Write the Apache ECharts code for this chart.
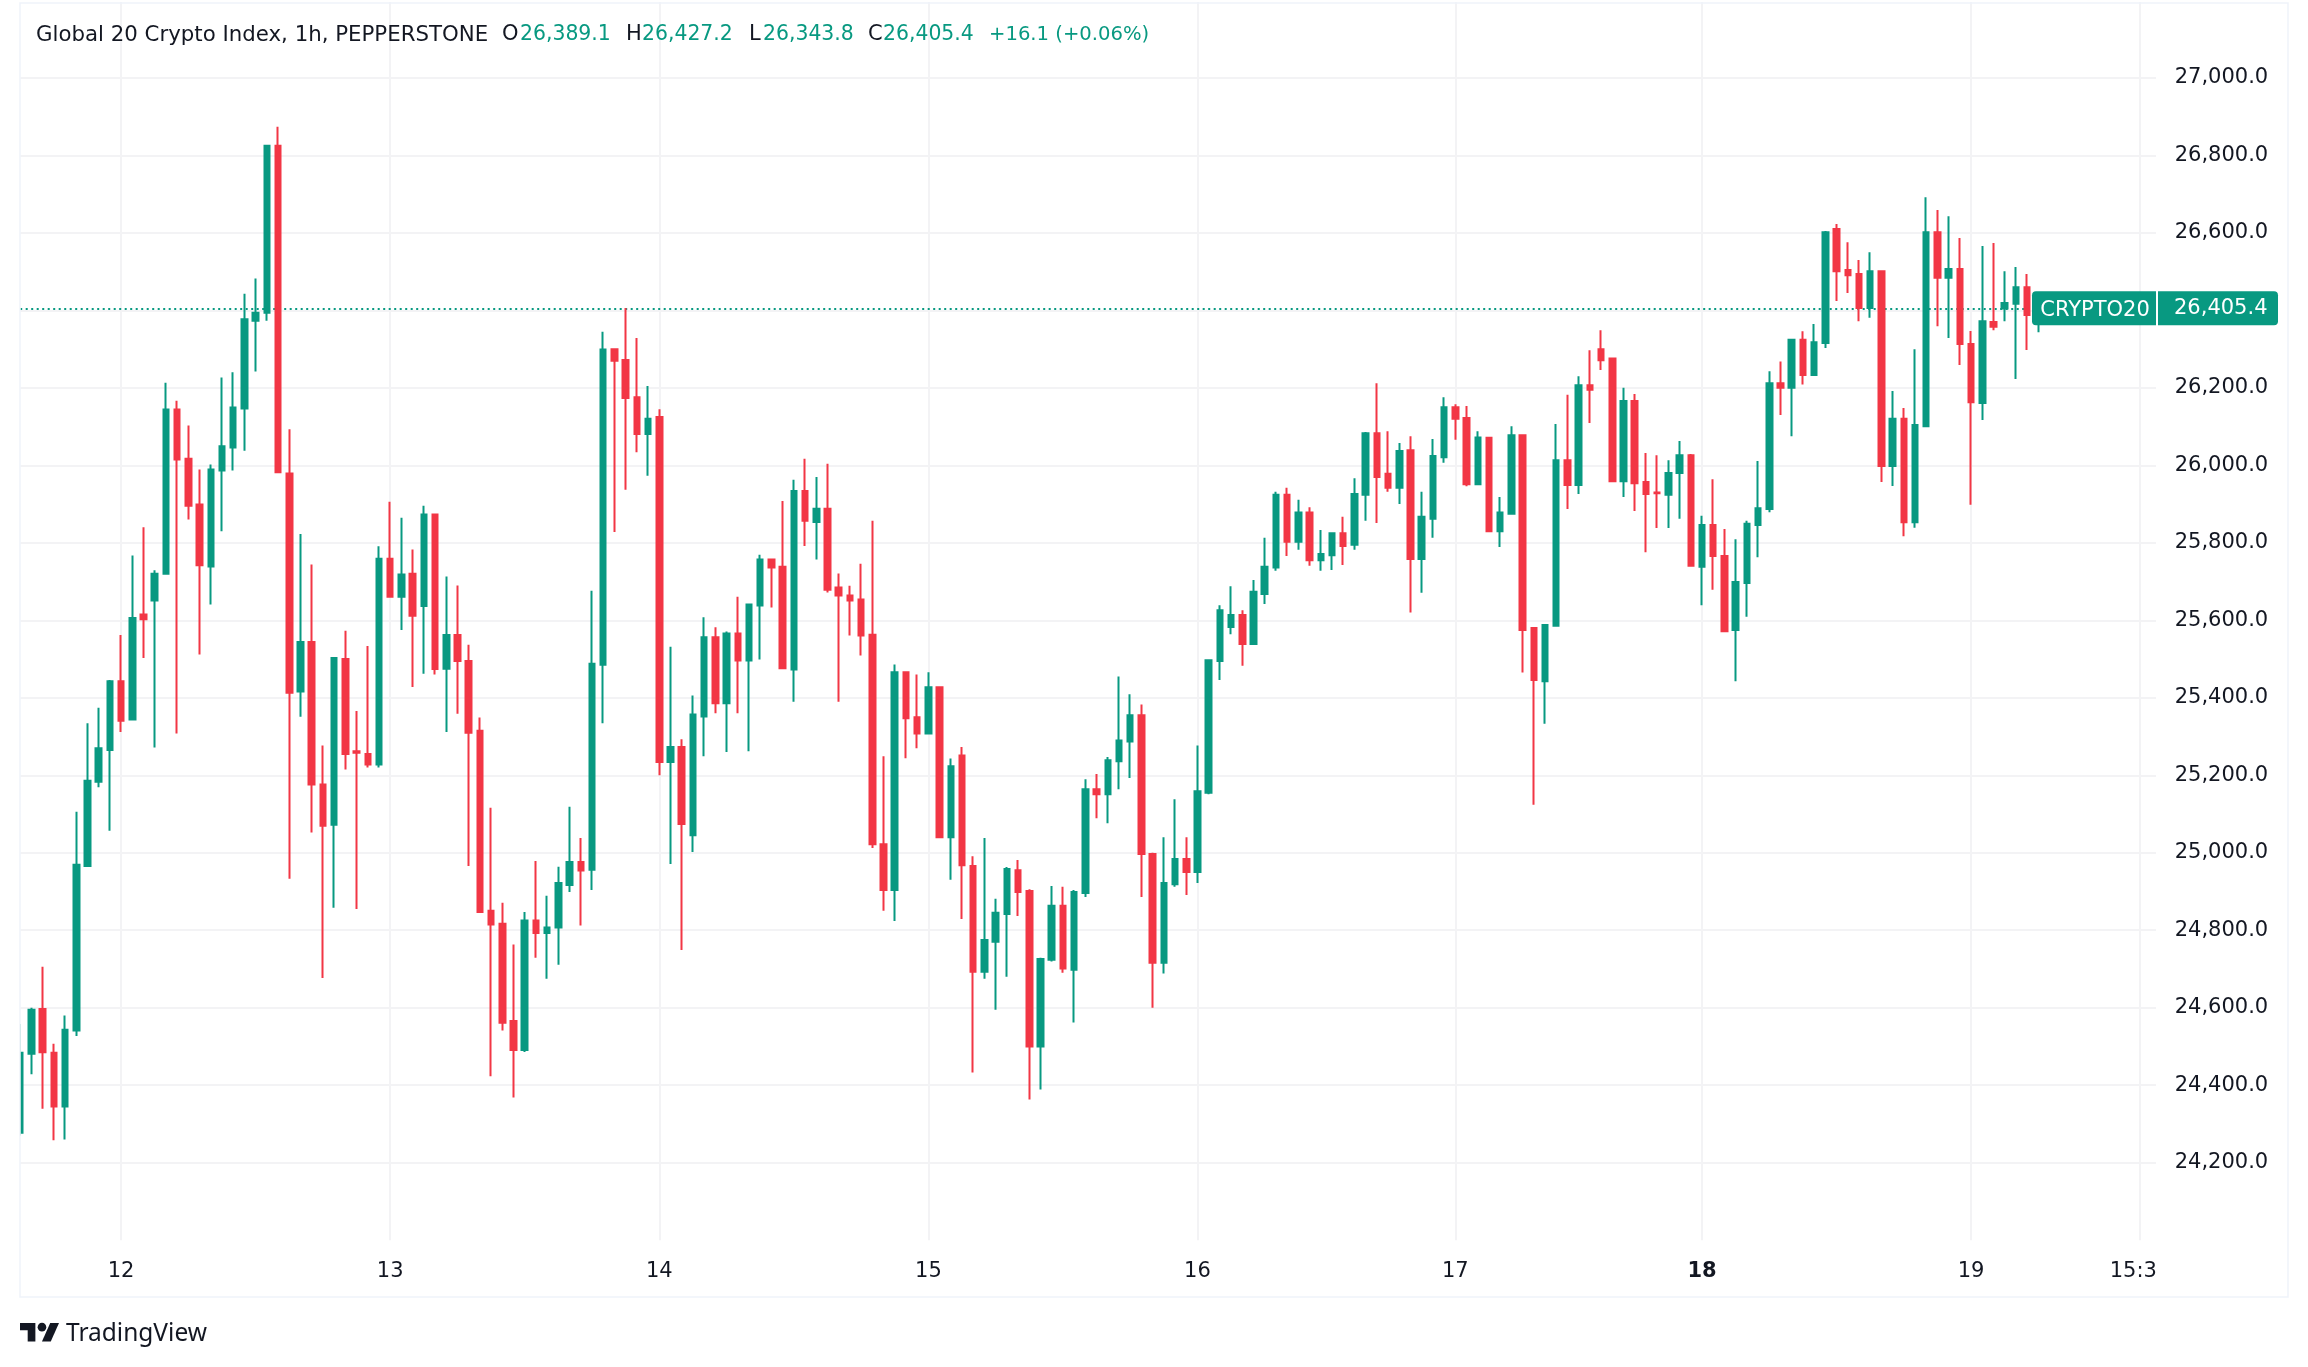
<!DOCTYPE html>
<html>
<head>
<meta charset="utf-8">
<title>Global 20 Crypto Index</title>
<script src="https://cdn.jsdelivr.net/npm/echarts@6/dist/echarts.min.js"></script>
<style>
html,body{margin:0;padding:0;background:#fff;}
#chart{width:2308px;height:1367px;}
</style>
</head>
<body>
<div id="chart"></div>
<script>
var opens = [24277,24481,24597,24484,24345,24541,24966,25183,25265,25443,
25344,25615,25651,25720,26144,26017,25899,25739,25987,26046,
26147,26373,26394,26825,25979,25416,25544,25176,25072,25500,
25262,25255,25228,25759,25661,25720,25637,25873,25475,25562,
25495,25315,24850,24817,24566,24491,24825,24793,24807,24917,
24976,24956,25485,26300,26272,26176,26081,26125,25234,25273,
25045,25352,25556,25386,25566,25496,25638,25757,25738,25473,
25934,25854,25888,25685,25664,25654,25563,25022,24904,25466,
25350,25308,25427,25040,25251,24966,24693,24770,24842,24955,
24901,24500,24724,24863,24698,24896,25164,25151,25236,25287,
25355,24997,24716,24919,24984,24950,25155,25495,25583,25614,
25539,25668,25736,25924,25803,25878,25755,25768,25825,25795,
25924,26083,25978,25942,26039,25758,25862,26021,26150,26122,
25951,26071,25830,25875,26078,25580,25443,25586,26013,25949,
26207,26300,26276,25959,26166,25957,25930,25924,25980,26026,
25738,25846,25766,25575,25696,25846,25887,26212,26200,26324,
26233,26316,26610,26504,26494,26406,26501,25998,26120,25853,
26101,26602,26484,26507,26313,26161,26370,26405,26417,26460,
26389.1];
var closes = [24484,24595,24485,24345,24543,24969,25186,25270,25443,25341,
25606,25603,25720,26144,26015,25896,25742,25989,26049,26149,
26377,26394,26825,25982,25413,25544,25176,25070,25503,25255,
25258,25228,25759,25661,25718,25612,25873,25474,25562,25495,
25310,24847,24815,24561,24491,24825,24793,24807,24922,24976,
24954,25488,26299,26270,26174,26081,26120,25234,25273,25074,
25357,25556,25386,25566,25496,25641,25757,25736,25476,25934,
25857,25888,25679,25664,25651,25561,25022,24904,25466,25347,
25308,25427,25040,25223,24968,24693,24775,24845,24958,24899,
24500,24726,24863,24701,24899,25164,25151,25239,25290,25355,
24997,24716,24922,24984,24950,25159,25497,25626,25614,25539,
25674,25738,25924,25803,25878,25755,25771,25825,25792,25926,
26083,25970,25942,26037,25758,25867,26024,26150,26120,25951,
26072,25830,25878,26078,25575,25446,25588,26013,25949,26207,
26195,26271,25959,26166,25954,25926,25928,25980,26026,25741,
25846,25766,25572,25699,25849,25889,26212,26200,26324,26233,
26318,26602,26501,26491,26406,26501,25998,26120,25853,26104,
26602,26484,26507,26313,26163,26372,26358,26419,26460,26388,
26405.4];
var lows = [24270,24428,24339,24258,24260,24527,24966,25169,25057,25312,
25344,25503,25272,25720,25308,25860,25512,25641,25830,25987,
26038,26242,26373,25982,24933,25351,25052,24677,24858,25215,
24855,25220,25220,25659,25575,25428,25462,25460,25312,25359,
24966,24847,24423,24541,24368,24486,24729,24675,24711,24899,
24812,24904,25334,25828,25937,26034,25973,25200,24971,24749,
25002,25249,25360,25260,25360,25262,25499,25633,25476,25390,
25792,25757,25672,25390,25561,25509,25012,24850,24824,25244,
25270,25308,25040,24930,24829,24433,24675,24595,24680,24837,
24363,24389,24719,24690,24562,24886,25089,25076,25164,25193,
24886,24600,24688,24912,24891,24922,25151,25446,25564,25483,
25537,25642,25728,25766,25782,25741,25728,25730,25743,25782,
25857,25851,25932,25900,25620,25671,25813,26007,26066,25946,
25949,25830,25789,25875,25465,25124,25333,25586,25887,25926,
26109,26246,25957,25918,25882,25776,25838,25838,25862,25741,
25639,25679,25572,25443,25609,25763,25879,26130,26075,26209,
26233,26303,26424,26445,26372,26381,25957,25947,25817,25839,
26101,26359,26329,26259,25898,26117,26349,26372,26223,26298,
26343.8];
var highs = [24558,24600,24706,24507,24580,25106,25334,25374,25446,25562,
25767,25840,25729,26213,26167,26103,25989,26002,26227,26240,
26443,26482,26825,26874,26093,25823,25744,25277,25503,25573,
25366,25534,25791,25906,25865,25783,25896,25873,25713,25690,
25537,25349,25116,24871,24763,24847,24979,24889,24964,25119,
25038,25676,26345,26300,26406,26329,26205,26145,25532,25293,
25406,25608,25582,25571,25661,25641,25769,25757,25908,25963,
26017,25970,26004,25721,25689,25746,25857,25249,25486,25468,
25460,25466,25427,25243,25273,24991,25038,24881,24963,24981,
24906,24729,24914,24912,24904,25190,25203,25247,25455,25409,
25383,25000,25040,25138,25040,25277,25499,25639,25688,25626,
25704,25813,25932,25942,25911,25892,25833,25825,25867,25967,
26086,26212,26088,26058,26075,25932,26068,26176,26158,26153,
26088,26071,25918,26101,26078,25583,25588,26107,26182,26230,
26297,26349,26276,26200,26184,26032,26026,26013,26063,26029,
25870,25964,25836,25809,25857,26011,26243,26268,26324,26346,
26365,26605,26623,26576,26530,26550,26501,26192,26148,26300,
26692,26659,26643,26587,26347,26566,26574,26501,26512,26494,
26427.2];

//时间轴刻度
var dayIndexes = [9,33,57,81,105,128,150,174,189];
var dayLabels = ['12','13','14','15','16','17','18','19','15:3'];
var barSlots = 192;   //含右侧留白

var lastPrice = 26405.4;
var symbolName = 'CRYPTO20';
var lastPriceText = '26,405.4';
var titleText = 'Global 20 Crypto Index, 1h, PEPPERSTONE';
var ohlcLetters = ['O','H','L','C'];
var ohlcValues = ['26,389.1','26,427.2','26,343.8','26,405.4'];
var changeText = '+16.1 (+0.06%)';
var brandText = 'TradingView';

var upColor = '#089981';
var downColor = '#F23645';
var gridColor = '#f3f3f5';
var frameColor = '#f0f3fa';
var textColor = '#131722';
var fontName = '"DejaVu Sans", sans-serif';

var candleData = [];
for (var i = 0; i < opens.length; i++) {
	candleData.push([opens[i], closes[i], lows[i], highs[i]]);
}
var categories = [];
for (var c = 0; c < barSlots; c++) {
	var pos = dayIndexes.indexOf(c);
	categories.push(pos >= 0 ? dayLabels[pos] : '');
}

function isDayTick(index) {
	return dayIndexes.indexOf(index) >= 0;
}

function headerText(x, text, color, size) {
	return {
		type: 'text', z: 20, x: x, y: 35,
		style: {
			text: text, fill: color, font: size + 'px ' + fontName,
			verticalAlign: 'middle', align: 'left'
		}
	};
}

var myChart = echarts.init(document.getElementById('chart'), null, {renderer: 'canvas'});

var option = {
	animation: false,
	backgroundColor: '#ffffff',
	grid: {left: 20.2, top: 0.46, width: 2141.5, height: 1239.7, containLabel: false},
	xAxis: {
		type: 'category',
		data: categories,
		boundaryGap: false,
		axisLine: {show: false},
		axisTick: {show: false},
		splitLine: {
			show: true,
			interval: function (index) { return isDayTick(index); },
			lineStyle: {color: gridColor, width: 2}
		},
		axisLabel: {
			show: true,
			interval: function (index) { return isDayTick(index); },
			margin: 21,
			color: textColor,
			fontFamily: fontName,
			fontSize: 21,
			hideOverlap: false,
			formatter: function (value) {
				if (value === '18') return '{b|18}';
				if (value === '15:3') return '{s|15:3}';
				return value;
			},
			rich: {
				b: {fontWeight: 'bold', fontSize: 21, fontFamily: fontName, color: textColor},
				s: {fontSize: 21, fontFamily: fontName, color: textColor, padding: [0, 12, 0, 0]}
			}
		}
	},
	yAxis: {
		type: 'value',
		position: 'right',
		scale: true,
		min: 24000,
		max: 27200,
		interval: 200,
		axisLine: {show: false},
		axisTick: {show: false},
		splitLine: {show: true, showMinLine: false, showMaxLine: false, lineStyle: {color: gridColor, width: 2}},
		axisLabel: {
			show: true,
			margin: 13,
			padding: [2, 0, 0, 0],
			color: textColor,
			fontFamily: fontName,
			fontSize: 21,
			showMinLabel: false,
			showMaxLabel: false,
			formatter: function (v) {
				return echarts.format.addCommas(v) + '.0';
			}
		}
	},
	series: [
		{
			//最新价虚线，放在K线下面
			type: 'line',
			data: [],
			z: 1,
			silent: true,
			markLine: {
				silent: true,
				symbol: 'none',
				z: 1,
				label: {show: false},
				lineStyle: {color: upColor, type: [2, 3.5], width: 2, opacity: 1},
				data: [{yAxis: lastPrice}]
			}
		},
		{
			type: 'candlestick',
			z: 3,
			barWidth: 6,
			data: candleData,
			itemStyle: {
				color: upColor,
				color0: downColor,
				borderColor: upColor,
				borderColor0: downColor,
				borderWidth: 2
			}
		}
	]
};
myChart.setOption(option);

var tagY = myChart.convertToPixel({yAxisIndex: 0}, lastPrice);

//TradingView 标志
var logoX = 20, logoY = 1323, logoW = 39, logoH = 18.6;
function logoPoint(px, py) {
	return [logoX + px / 35.5 * logoW, logoY + py / 18 * logoH];
}

var graphics = [
	//盖住网格和K线超出部分
	{type: 'rect', z: 10, shape: {x: 2156, y: 0, width: 8, height: 1242}, style: {fill: '#ffffff'}},
	{type: 'rect', z: 10, shape: {x: 0, y: 0, width: 2308, height: 2}, style: {fill: '#ffffff'}},
	{type: 'rect', z: 10, shape: {x: 0, y: 0, width: 20, height: 1300}, style: {fill: '#ffffff'}},
	{type: 'rect', z: 11, shape: {x: 20, y: 3, width: 2268, height: 1294}, style: {fill: 'none', stroke: frameColor, lineWidth: 1.5}},
	{type: 'rect', z: 12, shape: {x: 2032, y: tagY - 17, width: 124, height: 34, r: [4, 0, 0, 4]}, style: {fill: upColor}},
	{type: 'rect', z: 12, shape: {x: 2158, y: tagY - 17, width: 120, height: 34, r: [0, 4, 4, 0]}, style: {fill: upColor}},
	{type: 'text', z: 13, x: 2095, y: tagY + 2, style: {text: symbolName, fill: '#ffffff', font: '21px ' + fontName, align: 'center', verticalAlign: 'middle'}},
	{type: 'text', z: 13, x: 2174, y: tagY, style: {text: lastPriceText, fill: '#ffffff', font: '21px ' + fontName, align: 'left', verticalAlign: 'middle'}},
	{type: 'polygon', z: 13, shape: {points: [logoPoint(0, 0), logoPoint(14, 0), logoPoint(14, 18), logoPoint(7, 18), logoPoint(7, 7), logoPoint(0, 7)]}, style: {fill: textColor}},
	{type: 'polygon', z: 13, shape: {points: [logoPoint(27.5, 0), logoPoint(35.5, 0), logoPoint(28, 18), logoPoint(20, 18)]}, style: {fill: textColor}},
	{type: 'circle', z: 13, shape: {cx: logoPoint(20, 0)[0], cy: logoPoint(0, 4)[1], r: 4.3}, style: {fill: textColor}},
	{type: 'text', z: 13, x: 66, y: 1334, style: {text: brandText, fill: textColor, font: '24.5px "Noto Sans", sans-serif', align: 'left', verticalAlign: 'middle'}},
	headerText(36, titleText, textColor, 21.3),
	headerText(502, ohlcLetters[0], textColor, 21),
	headerText(520, ohlcValues[0], upColor, 20.4),
	headerText(626, ohlcLetters[1], textColor, 21),
	headerText(642, ohlcValues[1], upColor, 20.4),
	headerText(749, ohlcLetters[2], textColor, 21),
	headerText(763, ohlcValues[2], upColor, 20.4),
	headerText(868, ohlcLetters[3], textColor, 21),
	headerText(883, ohlcValues[3], upColor, 20.4),
	headerText(989, changeText, upColor, 19.6)
];
myChart.setOption({graphic: graphics});
</script>
</body>
</html>
